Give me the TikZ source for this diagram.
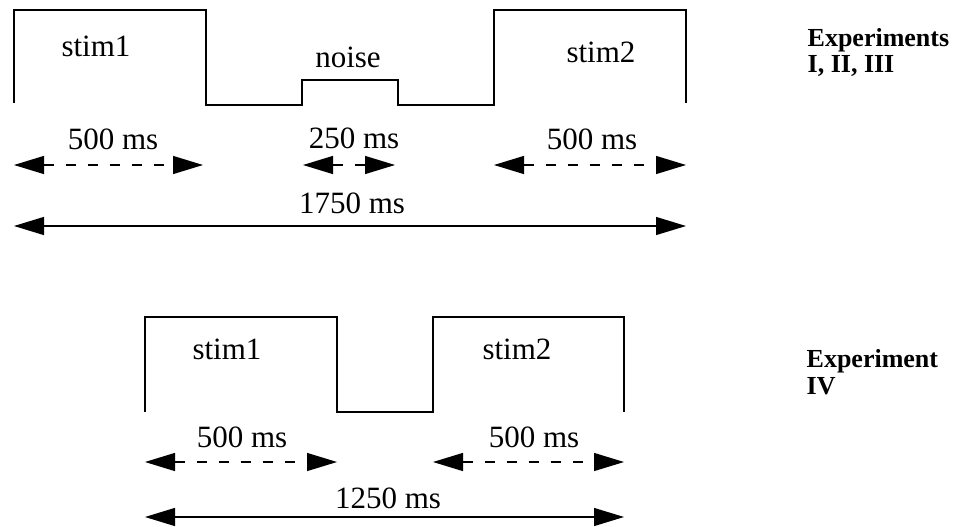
\documentclass[tikz,border=0pt]{standalone}
\usepackage{fontspec}
\setmainfont{Liberation Serif}
\usetikzlibrary{arrows.meta}
\begin{document}
\begin{tikzpicture}[x=1pt,y=-1pt,line width=1.3pt,
	lbl/.style={font=\fontsize{31}{36}\selectfont,anchor=base,inner sep=0pt},
	expname/.style={font=\fontsize{26}{27}\selectfont\bfseries,anchor=base west,inner sep=0pt},
	span/.style={{Triangle[length=30pt,width=18pt]}-{Triangle[length=30pt,width=18pt]}},
	part/.style={span,dash pattern=on 10pt off 12pt}]
	\useasboundingbox (0,0) rectangle (956,527);
	
	%stim1 - noise - stim2
	\draw (14,103)--(14,10)--(206,10)--(206,105)--(302,105)--(302,80)--(398,80)--(398,105)--(494,105)--(494,10)--(686,10)--(686,103);
	\node[lbl] (sa) at (96,57) {stim1};
	\node[lbl] (nz) at (348,67) {noise};
	\node[lbl] (sb) at (601,63) {stim2};
	
	%stim1 - stim2
	\draw (145,412)--(145,317)--(337,317)--(337,412)--(433,412)--(433,317)--(624,317)--(624,412);
	\node[lbl] (sc) at (227,359) {stim1};
	\node[lbl] (sd) at (517,359) {stim2};
	
	%durations
	\foreach \n/\xa/\xb/\y/\s in {da/14/203/165/part, db/303/395/165/part, dc/494/686/165/part, dd/14/686/226/span,
		de/145/337/462/part, df/433/624/462/part, dg/145/624/517/span}
	{
		\coordinate (\n-l) at (\xa,\y);
		\coordinate (\n-r) at (\xb,\y);
		\draw[\s] (\n-l)--(\n-r);
	}
	\node[lbl] (ta) at (113,149) {500 ms};
	\node[lbl] (tb) at (354,148) {250 ms};
	\node[lbl] (tc) at (592,149) {500 ms};
	\node[lbl] (td) at (352,213) {1750 ms};
	\node[lbl] (te) at (242,447) {500 ms};
	\node[lbl] (tf) at (534,447) {500 ms};
	\node[lbl] (tg) at (388,508) {1250 ms};
	
	\node[expname] (ea) at (807,47) {Experiments};
	\node[expname] (eb) at (807,73) {I, II, III};
	\node[expname] (ec) at (806,367) {Experiment};
	\node[expname] (ed) at (806,394) {IV};
\end{tikzpicture}
\end{document}
